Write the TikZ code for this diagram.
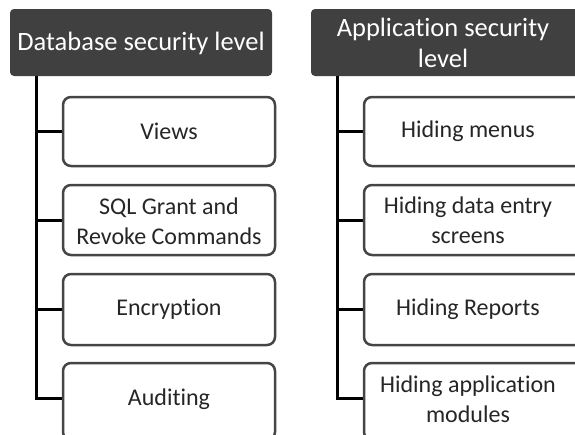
\documentclass[tikz,border=0pt]{standalone}
\usepackage{fontspec}
\setmainfont[Ligatures=NoCommon]{Carlito}
\definecolor{hdr}{HTML}{404040}
\definecolor{bord}{HTML}{454545}
\begin{document}
\begin{tikzpicture}[x=1pt,y=-1pt,
  header/.style={fill=hdr,rounded corners=4pt},
  hdrtxt/.style={text=white,font=\fontsize{26.5}{31}\selectfont,align=center,inner sep=0pt},
  item/.style={draw=bord,line width=2.5pt,rounded corners=8pt,fill=white},
  lbl/.style={font=\fontsize{24}{30}\selectfont,align=center,inner sep=0pt,text=black!85},
  conn/.style={draw=black,line width=3pt}]
\useasboundingbox (0,0) rectangle (575,434);
\begin{scope}
\clip (0,0) rectangle (575,434);
% headers
\path[header] (10,9) rectangle (272,76);
\node[hdrtxt] (h1) at (141,43) {Database security level};
\path[header] (311,9) rectangle (580,76);
\node[hdrtxt] (h2) at (443,43) {Application security\\level};
% connectors
\coordinate (v1) at (36,76);
\coordinate (v2) at (337,76);
\foreach \yy [count=\i] in {131,220,309,398}{
  \coordinate (l\i) at (36,\yy);
  \coordinate (r\i) at (337,\yy);
}
\draw[conn] (v1) -- (l4) -- (64,398);
\draw[conn] (l1) -- (64,131);
\draw[conn] (l2) -- (64,220);
\draw[conn] (l3) -- (64,309);
\draw[conn] (v2) -- (r4) -- (365,398);
\draw[conn] (r1) -- (365,131);
\draw[conn] (r2) -- (365,220);
\draw[conn] (r3) -- (365,309);
% boxes
\draw[item] (63,97) rectangle (275,166);
\draw[item] (63,185) rectangle (275,255);
\draw[item] (63,274) rectangle (275,345);
\draw[item] (63,363) rectangle (275,440);
\draw[item] (364,97) rectangle (590,166);
\draw[item] (364,185) rectangle (590,255);
\draw[item] (364,274) rectangle (590,345);
\draw[item] (364,363) rectangle (590,440);
\end{scope}
\node[lbl] (a1) at (169,131) {Views};
\node[lbl] (a2) at (169,221) {SQL Grant and\\Revoke Commands};
\node[lbl] (a3) at (169,309) {Encryption};
\node[lbl] (a4) at (169,399) {Auditing};
\node[lbl] (b1) at (468,131) {Hiding menus};
\node[lbl] (b2) at (468,220) {Hiding data entry\\screens};
\node[lbl] (b3) at (468,309) {Hiding Reports};
\node[lbl] (b4) at (468,399) {Hiding application\\modules};
\end{tikzpicture}
\end{document}
